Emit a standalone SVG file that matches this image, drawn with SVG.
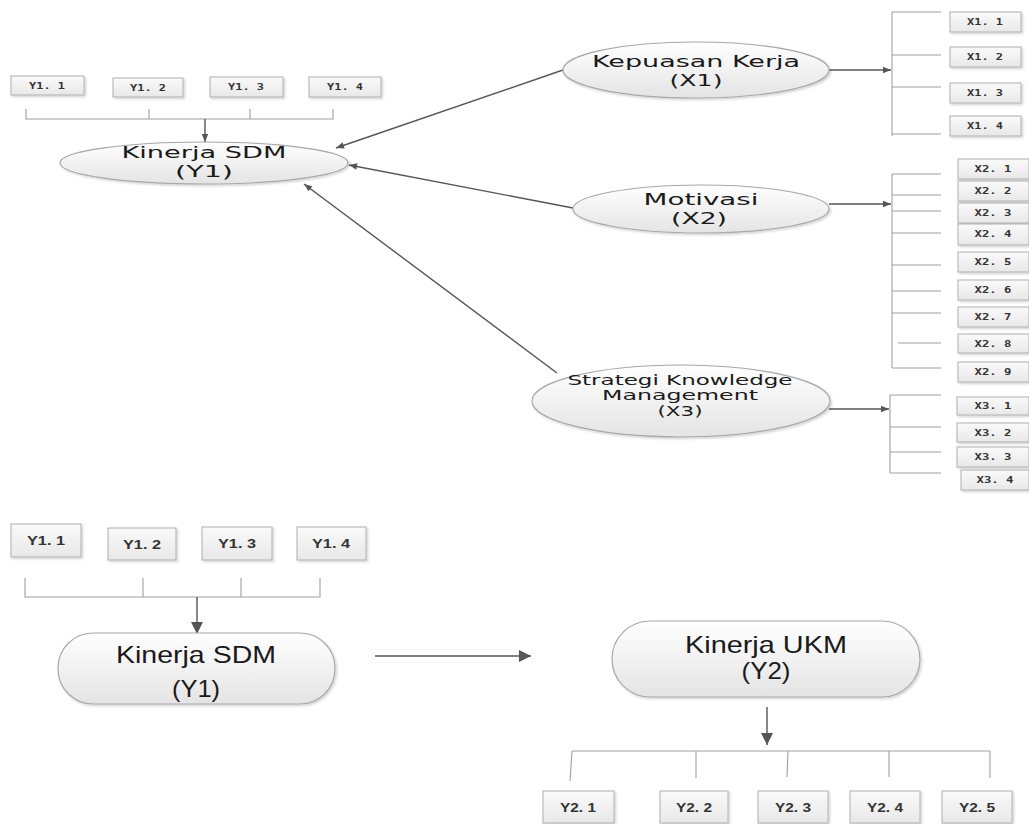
<svg xmlns="http://www.w3.org/2000/svg" width="1029" height="824" viewBox="0 0 1029 824">
<defs>
<linearGradient id="g" x1="0" y1="0" x2="0" y2="1"><stop offset="0" stop-color="#ffffff"/><stop offset="1" stop-color="#e4e4e4"/></linearGradient>
<linearGradient id="gb" x1="0" y1="0" x2="0" y2="1"><stop offset="0" stop-color="#fafafa"/><stop offset="1" stop-color="#e8e8e8"/></linearGradient>
<filter id="sh" x="-10%" y="-20%" width="120%" height="150%"><feDropShadow dx="1.5" dy="1.5" stdDeviation="1" flood-color="#000" flood-opacity="0.18"/></filter>
<marker id="ah" viewBox="0 0 10 10" refX="10" refY="5" markerWidth="10" markerHeight="8" markerUnits="userSpaceOnUse" orient="auto"><path d="M0,1 L10,5 L0,9 Z" fill="#555"/></marker>
<marker id="ahb" viewBox="0 0 10 10" refX="10" refY="5" markerWidth="14" markerHeight="12" markerUnits="userSpaceOnUse" orient="auto"><path d="M0,0 L10,5 L0,10 Z" fill="#555"/></marker>
</defs>
<style>
.lv{fill:url(#g);stroke:#a8a8a8;stroke-width:1.2;filter:url(#sh)}
.bx{fill:url(#gb);stroke:#b0b0b0;stroke-width:1;filter:url(#sh)}
.br{fill:none;stroke:#a0a0a0;stroke-width:1.1}
.ar{fill:none;stroke:#555;stroke-width:1.4}
.t0{font-family:"DejaVu Sans",sans-serif;font-size:15px;fill:#1a1a1a;text-anchor:middle}
.t1{font-family:"DejaVu Sans",sans-serif;font-size:16.5px;fill:#1a1a1a;text-anchor:middle}
.t2{font-family:"DejaVu Sans",sans-serif;font-size:14px;fill:#1a1a1a;text-anchor:middle}
.ts{font-family:"DejaVu Sans Mono",monospace;font-size:9px;font-weight:bold;fill:#333;text-anchor:middle}
.tb{font-family:"Liberation Sans",sans-serif;font-size:24px;fill:#1a1a1a;text-anchor:middle}
.tm{font-family:"Liberation Sans",sans-serif;font-size:12px;font-weight:bold;fill:#333;text-anchor:middle}
</style>

<g id="connectors">
<path class="br" d="M26,109 V119 H333 V109 M149,109 V119 M250,109 V119"/>
<line class="ar" x1="205" y1="119" x2="205" y2="142" marker-end="url(#ah)"/>
<line class="ar" x1="563" y1="70" x2="336" y2="148" marker-end="url(#ah)"/>
<line class="ar" x1="573" y1="208" x2="349" y2="165" marker-end="url(#ah)"/>
<line class="ar" x1="557" y1="373" x2="304" y2="184" marker-end="url(#ah)"/>
<line class="ar" x1="829" y1="70" x2="891" y2="70" marker-end="url(#ah)"/>
<path class="br" d="M892,12 V136 M892,12 H941 M892,55 H941 M892,87 H941 M892,134 H941"/>
<line class="ar" x1="829" y1="204" x2="891" y2="204" marker-end="url(#ah)"/>
<path class="br" d="M892,174 V368 M892,174 H941 M892,195 H941 M892,211 H941 M892,233 H941 M892,265 H941 M892,291 H941 M892,313 H941 M898,343 H941 M892,368 H941"/>
<line class="ar" x1="829" y1="409" x2="889" y2="409" marker-end="url(#ah)"/>
<path class="br" d="M890,395 V473 M890,395 H941 M890,427 H941 M890,452 H941 M890,473 H941"/>
<path class="br" d="M25,578 V597 H320 V578 M143,578 V597 M241,578 V597"/>
<line class="ar" x1="197" y1="597" x2="197" y2="634" marker-end="url(#ahb)"/>
<line class="ar" x1="375" y1="656" x2="531" y2="656" marker-end="url(#ahb)"/>
<line class="ar" x1="767" y1="707" x2="767" y2="745" marker-end="url(#ahb)"/>
<path class="br" d="M572,751 H990 M572,751 L570,781 M696,751 V778 M788,751 L787,777 M889,751 V777 M990,751 V778"/>
</g>

<g id="n-y1-top">
<ellipse class="lv" cx="204" cy="163" rx="144" ry="21"/>
<text class="t0" x="204" y="158" textLength="165" lengthAdjust="spacingAndGlyphs">Kinerja SDM</text>
<text class="t0" x="204" y="177" textLength="58" lengthAdjust="spacingAndGlyphs">(Y1)</text>
</g>
<g id="n-y1-ind-top">
<rect class="bx" x="11" y="76" width="73" height="19"/><text class="ts" x="47" y="89" textLength="36" lengthAdjust="spacingAndGlyphs">Y1. 1</text>
<rect class="bx" x="113" y="78" width="70" height="19"/><text class="ts" x="148" y="91" textLength="36" lengthAdjust="spacingAndGlyphs">Y1. 2</text>
<rect class="bx" x="210" y="77" width="73" height="20"/><text class="ts" x="246" y="90" textLength="36" lengthAdjust="spacingAndGlyphs">Y1. 3</text>
<rect class="bx" x="309" y="77" width="72" height="20"/><text class="ts" x="345" y="90" textLength="36" lengthAdjust="spacingAndGlyphs">Y1. 4</text>
</g>

<g id="n-x1">
<ellipse class="lv" cx="696" cy="70" rx="133" ry="28"/>
<text class="t1" x="696" y="67" textLength="208" lengthAdjust="spacingAndGlyphs">Kepuasan Kerja</text>
<text class="t1" x="696" y="86" textLength="53" lengthAdjust="spacingAndGlyphs">(X1)</text>
</g>
<g id="n-x1-ind">
<rect class="bx" x="950" y="12" width="71" height="20"/><text class="ts" x="985" y="25" textLength="36" lengthAdjust="spacingAndGlyphs">X1. 1</text>
<rect class="bx" x="950" y="47" width="71" height="20"/><text class="ts" x="985" y="60" textLength="36" lengthAdjust="spacingAndGlyphs">X1. 2</text>
<rect class="bx" x="950" y="83" width="71" height="20"/><text class="ts" x="985" y="96" textLength="36" lengthAdjust="spacingAndGlyphs">X1. 3</text>
<rect class="bx" x="950" y="116" width="71" height="20"/><text class="ts" x="985" y="129" textLength="36" lengthAdjust="spacingAndGlyphs">X1. 4</text>
</g>

<g id="n-x2">
<ellipse class="lv" cx="701" cy="209" rx="128" ry="24"/>
<text class="t1" x="701" y="205" textLength="115" lengthAdjust="spacingAndGlyphs">Motivasi</text>
<text class="t1" x="699" y="224" textLength="56" lengthAdjust="spacingAndGlyphs">(X2)</text>
</g>
<g id="n-x2-ind">
<rect class="bx" x="958" y="159" width="71" height="20"/><text class="ts" x="993" y="172" textLength="37" lengthAdjust="spacingAndGlyphs">X2. 1</text>
<rect class="bx" x="958" y="181" width="71" height="20"/><text class="ts" x="993" y="194" textLength="37" lengthAdjust="spacingAndGlyphs">X2. 2</text>
<rect class="bx" x="958" y="203" width="71" height="20"/><text class="ts" x="993" y="216" textLength="37" lengthAdjust="spacingAndGlyphs">X2. 3</text>
<rect class="bx" x="958" y="224" width="71" height="21"/><text class="ts" x="993" y="237" textLength="37" lengthAdjust="spacingAndGlyphs">X2. 4</text>
<rect class="bx" x="958" y="252" width="71" height="20"/><text class="ts" x="993" y="265" textLength="37" lengthAdjust="spacingAndGlyphs">X2. 5</text>
<rect class="bx" x="958" y="280" width="71" height="20"/><text class="ts" x="993" y="293" textLength="37" lengthAdjust="spacingAndGlyphs">X2. 6</text>
<rect class="bx" x="958" y="307" width="71" height="20"/><text class="ts" x="993" y="320" textLength="37" lengthAdjust="spacingAndGlyphs">X2. 7</text>
<rect class="bx" x="958" y="334" width="71" height="19"/><text class="ts" x="993" y="347" textLength="37" lengthAdjust="spacingAndGlyphs">X2. 8</text>
<rect class="bx" x="958" y="362" width="71" height="20"/><text class="ts" x="993" y="375" textLength="37" lengthAdjust="spacingAndGlyphs">X2. 9</text>
</g>

<g id="n-x3">
<ellipse class="lv" cx="681" cy="401" rx="149" ry="36"/>
<text class="t2" x="680" y="385" textLength="225" lengthAdjust="spacingAndGlyphs">Strategi Knowledge</text>
<text class="t2" x="680" y="400" textLength="156" lengthAdjust="spacingAndGlyphs">Management</text>
<text class="t2" x="680" y="416" textLength="45" lengthAdjust="spacingAndGlyphs">(X3)</text>
</g>
<g id="n-x3-ind">
<rect class="bx" x="957" y="397" width="72" height="18"/><text class="ts" x="993" y="409" textLength="37" lengthAdjust="spacingAndGlyphs">X3. 1</text>
<rect class="bx" x="957" y="423" width="72" height="19"/><text class="ts" x="993" y="436" textLength="37" lengthAdjust="spacingAndGlyphs">X3. 2</text>
<rect class="bx" x="957" y="447" width="72" height="20"/><text class="ts" x="993" y="460" textLength="37" lengthAdjust="spacingAndGlyphs">X3. 3</text>
<rect class="bx" x="961" y="470" width="68" height="20"/><text class="ts" x="995" y="483" textLength="37" lengthAdjust="spacingAndGlyphs">X3. 4</text>
</g>

<g id="n-y1-bottom">
<rect class="lv" x="58" y="633" width="277" height="71" rx="35" ry="35"/>
<text class="tb" x="196" y="663" textLength="160" lengthAdjust="spacingAndGlyphs">Kinerja SDM</text>
<text class="tb" x="196" y="697" textLength="48" lengthAdjust="spacingAndGlyphs">(Y1)</text>
</g>
<g id="n-y1-ind-bottom">
<rect class="bx" x="11" y="524" width="70" height="33"/><text class="tm" x="46" y="545" textLength="38" lengthAdjust="spacingAndGlyphs">Y1. 1</text>
<rect class="bx" x="108" y="528" width="68" height="32"/><text class="tm" x="142" y="549" textLength="38" lengthAdjust="spacingAndGlyphs">Y1. 2</text>
<rect class="bx" x="202" y="527" width="70" height="33"/><text class="tm" x="237" y="548" textLength="38" lengthAdjust="spacingAndGlyphs">Y1. 3</text>
<rect class="bx" x="297" y="527" width="69" height="33"/><text class="tm" x="331" y="548" textLength="38" lengthAdjust="spacingAndGlyphs">Y1. 4</text>
</g>

<g id="n-y2">
<rect class="lv" x="612" y="621" width="308" height="76" rx="38" ry="38"/>
<text class="tb" x="766" y="653" textLength="162" lengthAdjust="spacingAndGlyphs">Kinerja UKM</text>
<text class="tb" x="766" y="679" textLength="49" lengthAdjust="spacingAndGlyphs">(Y2)</text>
</g>
<g id="n-y2-ind">
<rect class="bx" x="543" y="791" width="71" height="32"/><text class="tm" x="578" y="812" textLength="36" lengthAdjust="spacingAndGlyphs">Y2. 1</text>
<rect class="bx" x="660" y="791" width="68" height="32"/><text class="tm" x="694" y="812" textLength="36" lengthAdjust="spacingAndGlyphs">Y2. 2</text>
<rect class="bx" x="758" y="791" width="70" height="32"/><text class="tm" x="793" y="812" textLength="36" lengthAdjust="spacingAndGlyphs">Y2. 3</text>
<rect class="bx" x="850" y="791" width="70" height="32"/><text class="tm" x="885" y="812" textLength="36" lengthAdjust="spacingAndGlyphs">Y2. 4</text>
<rect class="bx" x="942" y="791" width="70" height="32"/><text class="tm" x="977" y="812" textLength="36" lengthAdjust="spacingAndGlyphs">Y2. 5</text>
</g>
</svg>
